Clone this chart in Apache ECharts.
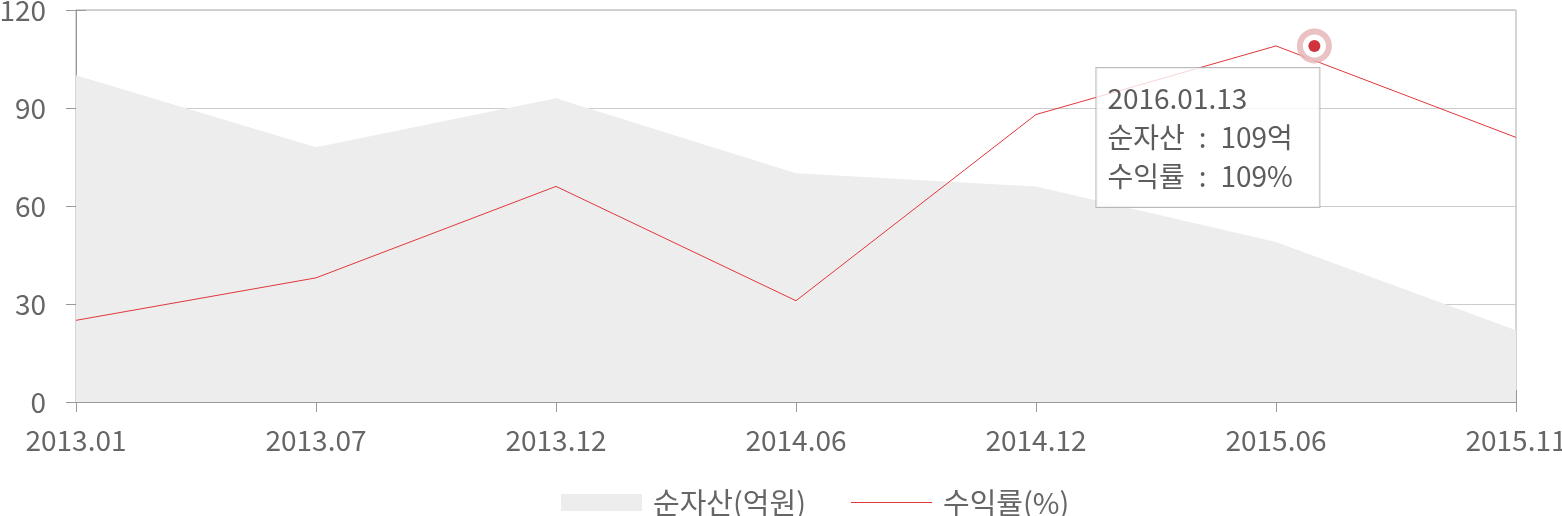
<!DOCTYPE html>
<html><head><meta charset="utf-8">
<script src="https://cdn.jsdelivr.net/npm/echarts@6/dist/echarts.min.js"></script>
<style>html,body{margin:0;padding:0;background:#fff}#c{width:1562px;height:516px}</style>
</head><body><div id="c"></div>
<script>
const categories = ['2013.01','2013.07','2013.12','2014.06','2014.12','2015.06','2015.11'];
const netAssets = [100, 78, 93, 70, 66, 49, 22];
const returns = [25, 38, 66, 31, 88, 109, 81];
const yTicks = {min: 0, max: 120, interval: 30};
const highlight = {date: '2016.01.13', pos: 5.16, asset: 109, ret: 109};
const FONT = '"Noto Sans CJK KR", "Noto Sans", sans-serif';

const chart = echarts.init(document.getElementById('c'), null, {renderer: 'canvas'});
chart.setOption({
  animation: false,
  textStyle: {fontFamily: FONT},
  grid: {left: 76, right: 46, top: 10, bottom: 114, show: true, borderColor: '#aaa', borderWidth: 1,
         backgroundColor: 'transparent', containLabel: false, outerBoundsMode: 'none'},
  legend: {
    left: 556, top: 483, itemWidth: 81, itemHeight: 17, itemGap: 45,
    textStyle: {fontSize: 29, color: '#666', fontFamily: FONT, padding: [0, 0, 0, 6]},
    data: [
      {name: '순자산(억원)', icon: 'rect', itemStyle: {color: '#ededed'}},
      {name: '수익률(%)', icon: 'path://M0,0L80,0L80,1L0,1Z', itemStyle: {color: '#e2373c'}}
    ]
  },
  xAxis: [{
    type: 'category', data: categories, boundaryGap: false, position: 'bottom',
    axisLine: {lineStyle: {color: '#999'}},
    axisTick: {show: true, length: 10, interval: 0, lineStyle: {color: '#999'}},
    axisLabel: {fontSize: 28, color: '#666', margin: 24, interval: 0, fontFamily: FONT},
    splitLine: {show: false}
  }, {
    type: 'value', min: 0, max: categories.length - 1, interval: 1, position: 'bottom',
    axisLine: {show: false}, axisLabel: {show: false}, splitLine: {show: false},
    axisTick: {show: true, inside: true, length: 12, lineStyle: {color: '#999'}}
  }],
  yAxis: [{
    type: 'value', min: yTicks.min, max: yTicks.max, interval: yTicks.interval,
    axisLine: {show: true, lineStyle: {color: '#999'}},
    axisTick: {show: true, length: 10, lineStyle: {color: '#999'}},
    axisLabel: {fontSize: 28, color: '#666', margin: 30, fontFamily: FONT},
    splitLine: {lineStyle: {color: '#ccc'}}
  }, {
    type: 'value', min: yTicks.min, max: yTicks.max, interval: yTicks.interval, position: 'left',
    axisLine: {show: false}, axisLabel: {show: false}, splitLine: {show: false},
    axisTick: {show: true, inside: true, length: 10, lineStyle: {color: '#999'}}
  }],
  series: [{
    name: '순자산(억원)', type: 'line', data: netAssets, symbol: 'none',
    lineStyle: {width: 0}, itemStyle: {color: '#ededed'},
    areaStyle: {color: '#ededed', opacity: 1}, z: 1
  }, {
    name: '수익률(%)', type: 'line', data: returns, symbol: 'none',
    lineStyle: {width: 1, color: '#e2373c'}, itemStyle: {color: '#e2373c'}, z: 3
  }, {
    type: 'scatter', xAxisIndex: 1, data: [[highlight.pos, highlight.ret]],
    symbolSize: 29, itemStyle: {color: '#fff', borderColor: '#e6b3b5', borderWidth: 6}, z: 5, silent: true
  }, {
    type: 'scatter', xAxisIndex: 1, data: [[highlight.pos, highlight.ret]],
    symbolSize: 12, itemStyle: {color: '#c4000a'}, z: 6, silent: true,
    label: {
      show: true, position: [-212, 28], align: 'left', verticalAlign: 'top',
      backgroundColor: '#fff', borderColor: '#aaa', borderWidth: 1,
      padding: [11, 10, 11, 11], width: 202,
      color: '#333', fontSize: 28, lineHeight: 39, fontFamily: FONT,
      formatter: () => highlight.date + '\n순자산\u2002:\u2002' + highlight.asset + '억\n수익률\u2002:\u2002' + highlight.ret + '%'
    }
  }]
});
</script></body></html>
